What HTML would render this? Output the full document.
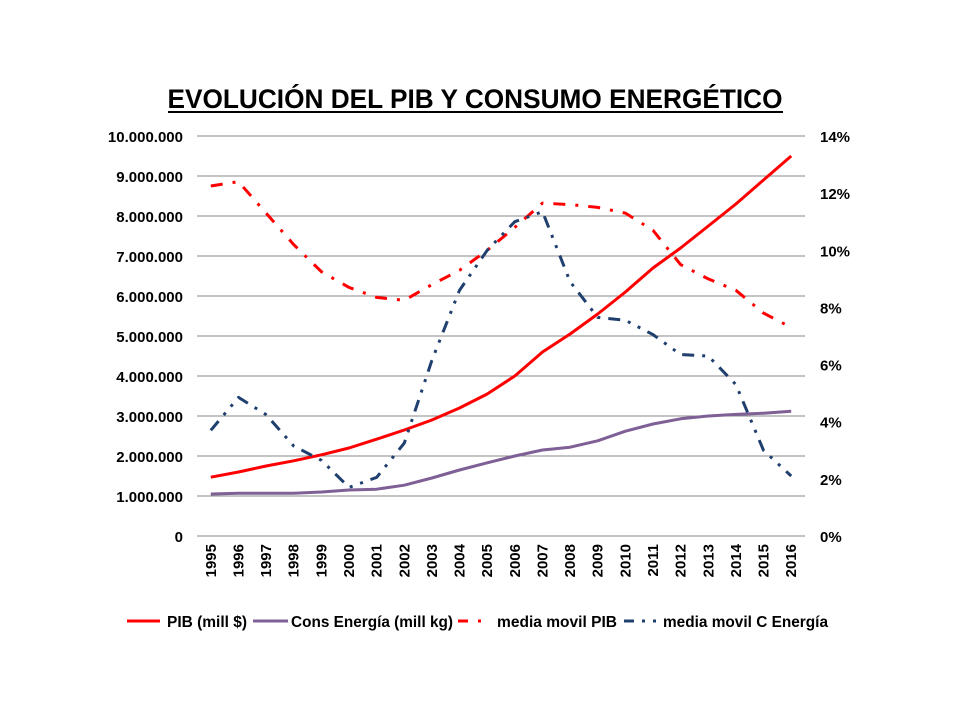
<!DOCTYPE html>
<html><head><meta charset="utf-8"><style>
body{margin:0;background:#fff}
svg text{font-family:"Liberation Sans",sans-serif;font-weight:bold}
</style></head><body>
<svg width="960" height="720" xmlns="http://www.w3.org/2000/svg">
<rect width="960" height="720" fill="#fff"/>
<text x="475" y="108" text-anchor="middle" font-size="27" textLength="615" lengthAdjust="spacingAndGlyphs">EVOLUCIÓN DEL PIB Y CONSUMO ENERGÉTICO</text>
<line x1="168" y1="112" x2="783" y2="112" stroke="#000" stroke-width="2"/>
<g id="grid"></g><g id="axes"></g><g id="series"></g>
<g font-size="16">
 <line x1="127" y1="621" x2="160" y2="621" stroke="#ff0000" stroke-width="3"/>
 <text x="167" y="627" textLength="80" lengthAdjust="spacingAndGlyphs">PIB (mill $)</text>
 <line x1="253" y1="621" x2="288" y2="621" stroke="#7f6096" stroke-width="3"/>
 <text x="291" y="627" textLength="162" lengthAdjust="spacingAndGlyphs">Cons Energía (mill kg)</text>
 <line x1="458" y1="621" x2="485" y2="621" stroke="#ff0000" stroke-width="3" stroke-dasharray="10,10,3,10"/>
 <text x="497" y="627" textLength="120" lengthAdjust="spacingAndGlyphs">media movil PIB</text>
 <line x1="624" y1="621" x2="662" y2="621" stroke="#1f3f6e" stroke-width="3" stroke-dasharray="10,8,3,8,3,8"/>
 <text x="663" y="627" textLength="165" lengthAdjust="spacingAndGlyphs">media movil C Energía</text>
</g>
</svg>
<script>
const years=['1995','1996','1997','1998','1999','2000','2001','2002','2003','2004','2005','2006','2007','2008','2009','2010','2011','2012','2013','2014','2015','2016'];
const pib=[1.47,1.6,1.75,1.88,2.03,2.2,2.42,2.65,2.9,3.2,3.55,4.0,4.6,5.05,5.55,6.1,6.7,7.2,7.75,8.3,8.9,9.5];
const consEnergia=[1.05,1.07,1.07,1.07,1.1,1.15,1.17,1.27,1.45,1.65,1.83,2.0,2.15,2.22,2.38,2.62,2.8,2.93,3.0,3.04,3.07,3.12];
const mediaPib=[12.25,12.4,11.3,10.2,9.25,8.7,8.35,8.25,8.8,9.3,10.0,10.8,11.65,11.6,11.5,11.3,10.7,9.5,9.0,8.6,7.8,7.3];
const mediaEnergia=[3.7,4.85,4.25,3.15,2.65,1.7,2.05,3.25,6.15,8.6,10.0,11.0,11.35,8.9,7.65,7.55,7.05,6.35,6.3,5.3,3.0,2.1];
const leftTicks=['0','1.000.000','2.000.000','3.000.000','4.000.000','5.000.000','6.000.000','7.000.000','8.000.000','9.000.000','10.000.000'];
const rightTicks=['0%','2%','4%','6%','8%','10%','12%','14%'];
const NS='http://www.w3.org/2000/svg';
const X0=197,X1=805,YT=136,YB=536;
const bw=(X1-X0)/years.length;
const xs=i=>X0+bw*(i+0.5);
const yl=v=>YB-(v/10)*(YB-YT);
const yr=v=>YB-(v/14)*(YB-YT);
function mk(t,a,p){const e=document.createElementNS(NS,t);for(const k in a)e.setAttribute(k,a[k]);p.appendChild(e);return e;}
const grid=document.getElementById('grid'),axes=document.getElementById('axes'),ser=document.getElementById('series');
leftTicks.forEach((t,i)=>{const y=yl(i);
 const g=mk('line',{x1:X0,x2:X1,y1:y,y2:y,stroke:'#888','stroke-width':1},grid);
 
 
 const tx=mk('text',{x:183,y:y+6,'text-anchor':'end','font-size':15},axes);tx.textContent=t;
 
 
});
rightTicks.forEach((t,i)=>{const y=yr(i*2);
 const tx=mk('text',{x:820,y:y+6,'font-size':15},axes);tx.textContent=t;
 
 
});
years.forEach((t,i)=>{const x=xs(i);
 const tx=mk('text',{x:0,y:0,'font-size':15,'text-anchor':'end',transform:`translate(${x+5},544) rotate(-90)`},axes);tx.textContent=t;
 
 
});
function line(vals,f,color,dash,name){
 const d=vals.map((v,i)=>(i?'L':'M')+xs(i).toFixed(1)+','+f(v).toFixed(1)).join('');
 const p=mk('path',{d,fill:'none',stroke:color,'stroke-width':3,'stroke-linejoin':'round'},ser);
 if(dash)p.setAttribute('stroke-dasharray',dash);
 
 
}
line(pib,yl,'#ff0000',null,'pib-line');
line(consEnergia,yl,'#7f6096',null,'cons-energia-line');
line(mediaPib,yr,'#ff0000','12,10,3,10','media-pib-line');
line(mediaEnergia,yr,'#1f3f6e','12,8,3,8,3,8','media-energia-line');
</script>
</body></html>
